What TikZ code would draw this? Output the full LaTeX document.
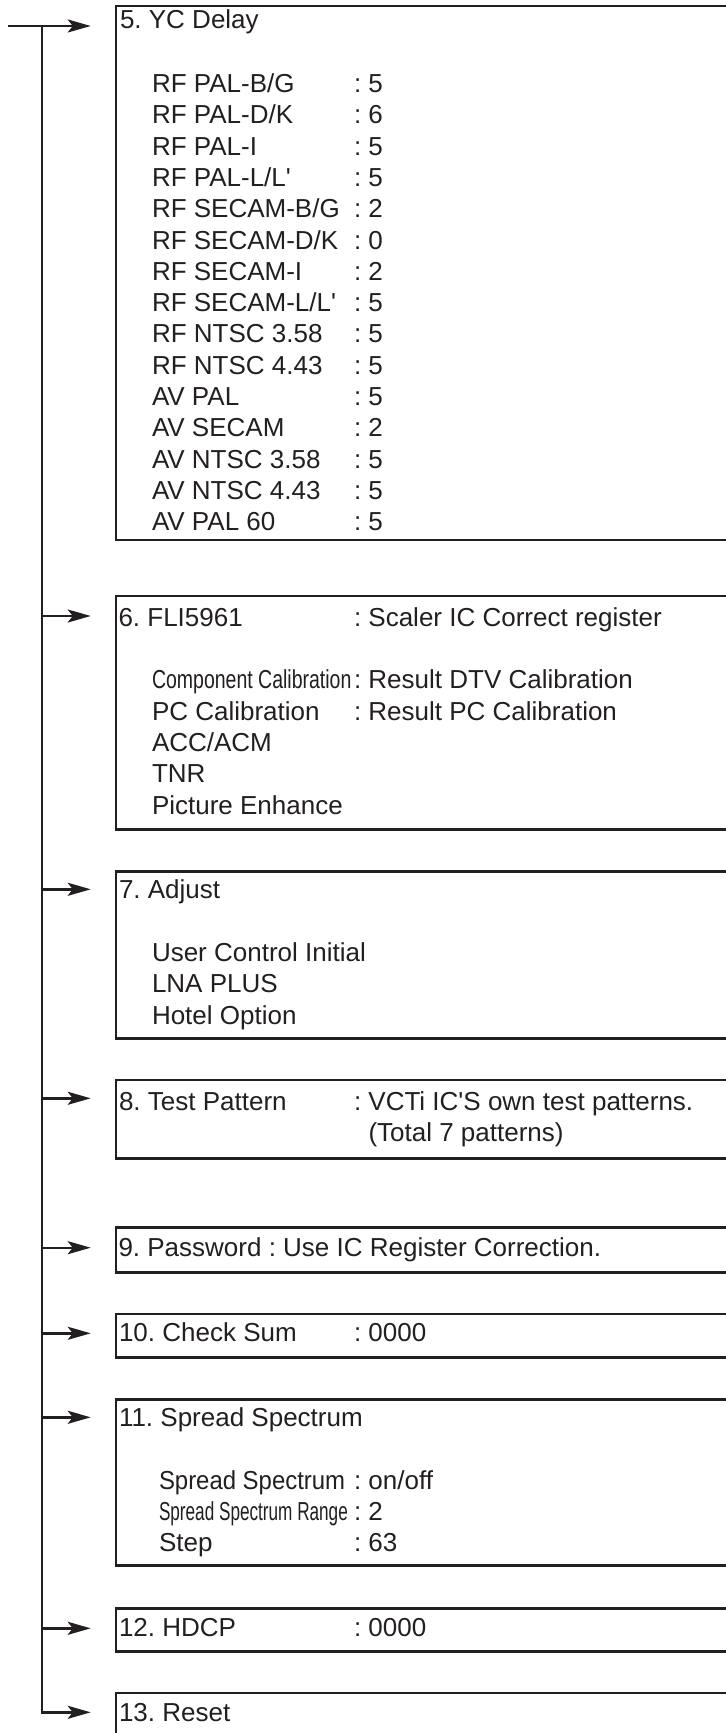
\documentclass[tikz,border=0pt]{standalone}
\usepackage{fontspec}
\setmainfont{Liberation Sans}
\usetikzlibrary{arrows.meta,fit}
\definecolor{ink}{RGB}{35,31,32}
\frenchspacing
\begin{document}
\begin{tikzpicture}[x=0.5pt,y=-0.5pt,
  box/.style={draw=ink, line width=1.25pt, inner sep=0pt},
  txt/.style={anchor=base west, inner sep=0pt, outer sep=0pt, text=ink, font=\fontsize{13pt}{15.6pt}\selectfont\frenchspacing},
  link/.style={draw=ink, line width=1.2pt, line join=miter},
  arr/.style={link, -{Stealth[length=11.5pt,width=6.5pt,inset=2.5pt]}, shorten >=12pt}
]
\clip (0,0) rectangle (726,1733);
\fill[white] (0,0) rectangle (726,1733);
% boxes
\node[box, fit={(116,6) (760,540)}] (b5) {};
\node[box, fit={(116,596) (760,829.3)}] (b6) {};
\node[box, fit={(116,871.7) (760,1038.3)}] (b7) {};
\node[box, fit={(116,1080) (760,1158.3)}] (b8) {};
\node[box, fit={(116,1227.7) (760,1272.3)}] (b9) {};
\node[box, fit={(116,1314) (760,1357.3)}] (b10) {};
\node[box, fit={(116,1399.3) (760,1565.7)}] (b11) {};
\node[box, fit={(116,1608.3) (760,1651.7)}] (b12) {};
\node[box, fit={(116,1693) (760,1780)}] (b13) {};
% trunk and arrows
\coordinate (top) at (8,26);
\coordinate (j5) at (42,26);
\coordinate (j6) at (42,616);
\coordinate (j7) at (42,889.3);
\coordinate (j8) at (42,1098.3);
\coordinate (j9) at (42,1247.7);
\coordinate (j10) at (42,1333.3);
\coordinate (j11) at (42,1417.3);
\coordinate (j12) at (42,1628.3);
\coordinate (j13) at (42,1712.3);
\draw[arr] (top) -- (top -| b5.west);
\draw[arr] (j5) -- (j13) -- (j13 -| b13.west);
\draw[arr] (j6) -- (j6 -| b6.west);
\draw[arr] (j7) -- (j7 -| b7.west);
\draw[arr] (j8) -- (j8 -| b8.west);
\draw[arr] (j9) -- (j9 -| b9.west);
\draw[arr] (j10) -- (j10 -| b10.west);
\draw[arr] (j11) -- (j11 -| b11.west);
\draw[arr] (j12) -- (j12 -| b12.west);
% box 5
\node[txt] (t5) at (120,28.5) {5. YC Delay};
\node[txt] (l51) at (152,92.7) {RF PAL-B/G};   \node[txt] (v51) at (354,92.7) {: 5};
\node[txt] (l52) at (152,124.0) {RF PAL-D/K};  \node[txt] (v52) at (354,124.0) {: 6};
\node[txt] (l53) at (152,155.3) {RF PAL-I};    \node[txt] (v53) at (354,155.3) {: 5};
\node[txt] (l54) at (152,186.6) {RF PAL-L/L\textquotesingle}; \node[txt] (v54) at (354,186.6) {: 5};
\node[txt] (l55) at (152,217.9) {RF SECAM-B/G}; \node[txt] (v55) at (354,217.9) {: 2};
\node[txt] (l56) at (152,249.2) {RF SECAM-D/K}; \node[txt] (v56) at (354,249.2) {: 0};
\node[txt] (l57) at (152,280.4) {RF SECAM-I};   \node[txt] (v57) at (354,280.4) {: 2};
\node[txt] (l58) at (152,311.7) {RF SECAM-L/L\textquotesingle}; \node[txt] (v58) at (354,311.7) {: 5};
\node[txt] (l59) at (152,343.0) {RF NTSC 3.58}; \node[txt] (v59) at (354,343.0) {: 5};
\node[txt] (l510) at (152,374.3) {RF NTSC 4.43}; \node[txt] (v510) at (354,374.3) {: 5};
\node[txt] (l511) at (152,405.6) {AV PAL};      \node[txt] (v511) at (354,405.6) {: 5};
\node[txt] (l512) at (152,436.9) {AV SECAM};    \node[txt] (v512) at (354,436.9) {: 2};
\node[txt] (l513) at (152,468.2) {AV NTSC 3.58}; \node[txt] (v513) at (354,468.2) {: 5};
\node[txt] (l514) at (152,499.5) {AV NTSC 4.43}; \node[txt] (v514) at (354,499.5) {: 5};
\node[txt] (l515) at (152,530.8) {AV PAL 60};   \node[txt] (v515) at (354,530.8) {: 5};
% box 6
\node[txt] (t6) at (118.5,626.7) {6. FLI5961};  \node[txt] (v6) at (354,626.7) {: Scaler IC Correct register};
\node[txt] (l61) at (152,688.7) {\scalebox{0.75}[1]{Component Calibration}}; \node[txt] (v61) at (354,688.7) {: Result DTV Calibration};
\node[txt] (l62) at (152,720) {PC Calibration}; \node[txt] (v62) at (354,720) {: Result PC Calibration};
\node[txt] (l63) at (152,751.3) {ACC/ACM};
\node[txt] (l64) at (152,782.6) {TNR};
\node[txt] (l65) at (152,814) {Picture Enhance};
% box 7
\node[txt] (t7) at (119,898.5) {7. Adjust};
\node[txt] (l71) at (152,961.5) {User Control Initial};
\node[txt] (l72) at (152,992.8) {LNA PLUS};
\node[txt] (l73) at (152,1024) {Hotel Option};
% box 8
\node[txt] (t8) at (119,1110.7) {8. Test Pattern}; \node[txt] (v8) at (354,1110.7) {: VCTi IC\textquotesingle S own test patterns.};
\node[txt] (v8b) at (368.5,1141) {(Total 7 patterns)};
% box 9
\node[txt] (t9) at (118.5,1256) {9. Password : Use IC Register Correction.};
% box 10
\node[txt] (t10) at (119,1341.7) {10. Check Sum}; \node[txt] (v10) at (354,1341.7) {: 0000};
% box 11
\node[txt] (t11) at (119,1426.7) {11. Spread Spectrum};
\node[txt] (l111) at (159,1489.3) {\scalebox{0.92}[1]{Spread Spectrum}}; \node[txt] (v111) at (354,1489.3) {: on/off};
\node[txt] (l112) at (159,1520.3) {\scalebox{0.66}[1]{Spread Spectrum Range}}; \node[txt] (v112) at (354,1520.3) {: 2};
\node[txt] (l113) at (159,1551) {Step}; \node[txt] (v113) at (354,1551) {: 63};
% box 12
\node[txt] (t12) at (119,1636.7) {12. HDCP}; \node[txt] (v12) at (354,1636.7) {: 0000};
% box 13
\node[txt] (t13) at (119,1721.7) {13. Reset};
\end{tikzpicture}
\end{document}
